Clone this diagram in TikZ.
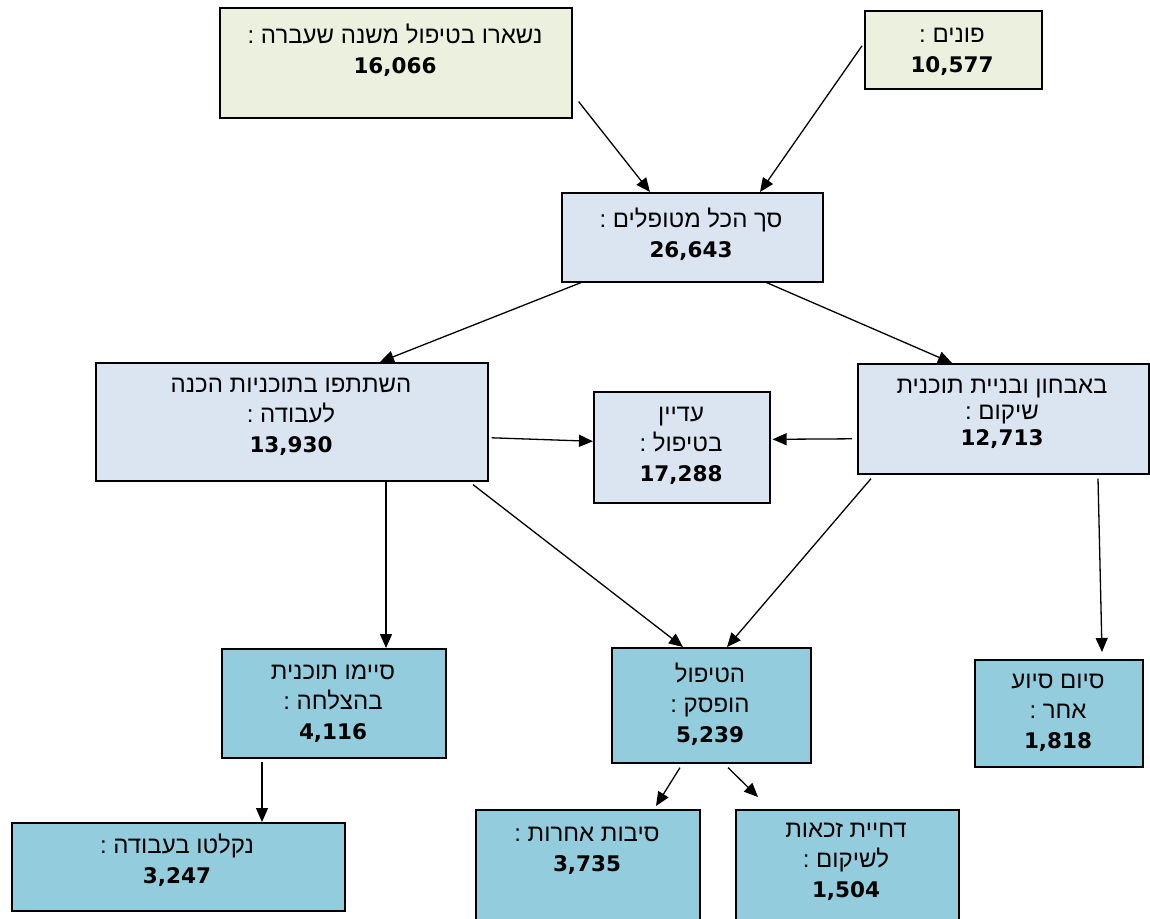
\documentclass[tikz,border=0pt]{standalone}
\usepackage{fontspec}
\TeXXeTstate=1
\newfontfamily\hebfont[Script=Hebrew]{Liberation Sans}
\newfontfamily\numfont{DejaVu Sans}
\usetikzlibrary{arrows.meta,calc}
\definecolor{boxgreen}{HTML}{EBF1DE}
\definecolor{boxlight}{HTML}{DBE5F1}
\definecolor{boxmid}{HTML}{93CDDD}
\newcommand{\hb}[1]{\beginR #1\endR}
\newcommand{\nm}[1]{{\numfont\bfseries\fontsize{21.5}{30}\selectfont #1}}
\begin{document}
\begin{tikzpicture}[x=1pt,y=-1pt,
  box/.style={draw=black, line width=1.6pt, inner sep=0pt, anchor=north west},
  gbox/.style={box, fill=boxgreen},
  lbox/.style={box, fill=boxlight},
  mbox/.style={box, fill=boxmid},
  txt/.style={align=center, inner sep=0pt, font=\hebfont\fontsize{24}{30}\selectfont},
  tighttxt/.style={txt, font=\hebfont\fontsize{24}{26}\selectfont},
  arr/.style={line width=1.3pt, -{Triangle[length=14pt,width=12pt]}}]
\useasboundingbox (0,0) rectangle (1150,918);
% boxes
\node[gbox, minimum width=352pt, minimum height=110pt] (rem) at (219,7) {};
\node[gbox, minimum width=177pt, minimum height=78pt] (pon) at (864,10) {};
\node[lbox, minimum width=261pt, minimum height=89pt] (tot) at (561,192) {};
\node[lbox, minimum width=392pt, minimum height=118pt] (prep) at (95,362) {};
\node[lbox, minimum width=176pt, minimum height=111pt] (still) at (593,391) {};
\node[lbox, minimum width=291pt, minimum height=110pt] (ass) at (857,363) {};
\node[mbox, minimum width=224pt, minimum height=109pt] (succ) at (221,648) {};
\node[mbox, minimum width=199pt, minimum height=115pt] (stop) at (611,647) {};
\node[mbox, minimum width=168pt, minimum height=107pt] (oth) at (974,659) {};
\node[mbox, minimum width=333pt, minimum height=88pt] (emp) at (11,822) {};
\node[mbox, minimum width=224pt, minimum height=112pt] (rsn) at (475,809) {};
\node[mbox, minimum width=223pt, minimum height=112pt] (deny) at (735,809) {};
% texts
\node[txt] (tRem) at (395,50) {\hb{נשארו בטיפול משנה שעברה :}\\\nm{16,066}};
\node[txt] (tPon) at (952,52) {\hb{פונים :}\\\nm{10,577}};
\node[txt] (tTot) at (691,234) {\hb{סך הכל מטופלים :}\\\nm{26,643}};
\node[txt] (tPrep) at (291,417) {\hb{השתתפו בתוכניות הכנה}\\\hb{לעבודה :}\\\nm{13,930}};
\node[txt] (tStill) at (681,446) {\hb{עדיין}\\\hb{בטיפול :}\\\nm{17,288}};
\node[tighttxt] (tAss) at (1002,414) {\hb{באבחון ובניית תוכנית}\\\hb{שיקום :}\\\nm{12,713}};
\node[txt] (tSucc) at (333,704) {\hb{סיימו תוכנית}\\\hb{בהצלחה :}\\\nm{4,116}};
\node[txt] (tStop) at (710,704) {\hb{הטיפול}\\\hb{הופסק :}\\\nm{5,239}};
\node[txt] (tOth) at (1058,713) {\hb{סיום סיוע}\\\hb{אחר :}\\\nm{1,818}};
\node[txt] (tEmp) at (177,860) {\hb{נקלטו בעבודה :}\\\nm{3,247}};
\node[txt] (tRsn) at (587,851) {\hb{סיבות אחרות :}\\\nm{3,735}};
\node[txt] (tDeny) at (846,862) {\hb{דחיית זכאות}\\\hb{לשיקום :}\\\nm{1,504}};
% connectors
\draw[arr] ($(rem.south east)+(6,-17)$) -- ($(tot.north west)+(89,0)$);
\draw[arr] ($(pon.west)+(-2,-4)$) -- ($(tot.north west)+(199,0)$);
\draw[arr] ($(tot.south west)+(20,0)$) -- ($(prep.north west)+(285,0)$);
\draw[arr] ($(tot.south east)+(-57,0)$) -- ($(ass.north west)+(95,0)$);
\draw[arr] ($(prep.east)+(3,16)$) -- ($(still.west)+(0,-6)$);
\draw[arr] ($(ass.west)+(-5,20)$) -- ($(still.east)+(2,-8)$);
\draw[arr] ($(prep.south west)+(291,0)$) -- ($(succ.north west)+(165,0)$);
\draw[arr] ($(prep.south west)+(378,3)$) -- ($(stop.north west)+(72,0)$);
\draw[arr] ($(ass.south west)+(14,4)$) -- ($(stop.north west)+(116,0)$);
\draw[arr] ($(ass.south west)+(241,4)$) -- ($(oth.north west)+(128,-7)$);
\draw[arr] ($(succ.south west)+(41,3)$) -- ($(emp.north west)+(251,0)$);
\draw[arr] ($(stop.south west)+(69,4)$) -- ($(rsn.north west)+(181,-3)$);
\draw[arr] ($(stop.south west)+(117,4)$) -- ($(deny.north west)+(23,-12)$);
\end{tikzpicture}
\end{document}
